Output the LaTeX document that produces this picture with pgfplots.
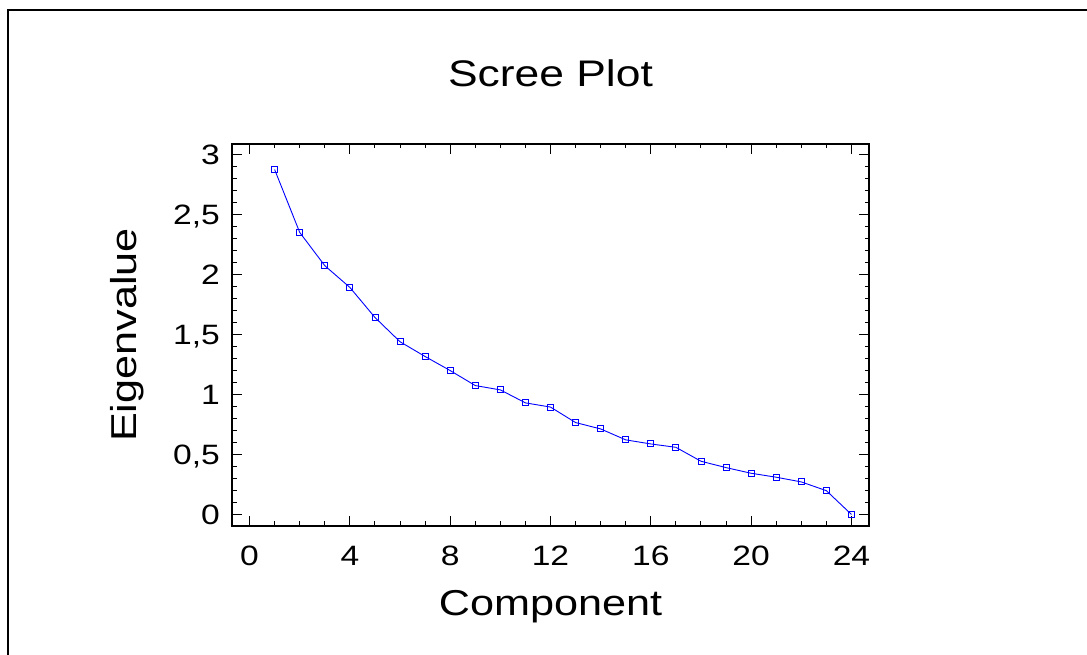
\documentclass[border=0pt]{standalone}
\usepackage{fontspec}
\setmainfont{Liberation Sans}[FakeStretch=1.2]
\usepackage{pgfplots}
\pgfplotsset{compat=1.18}
\begin{document}
\begin{tikzpicture}
\path[use as bounding box] (0,0) rectangle (1087pt,655pt);
\draw[line width=2pt] (8pt,0pt) -- (8pt,645pt) -- (1087pt,645pt);
\begin{axis}[
  at={(232pt,129pt)}, anchor=south west,
  scale only axis, width=637pt, height=382pt,
  xmin=-0.7, xmax=24.7, ymin=-0.094, ymax=3.086,
  xtick={0,4,8,12,16,20,24}, minor x tick num=3,
  ytick={0,0.5,1,1.5,2,2.5,3}, minor y tick num=4,
  tick align=inside,
  axis line style={line width=1.4pt},
  major tick length=10pt, minor tick length=4.5pt,
  every tick/.style={black, line width=1pt},
  /pgf/number format/use comma,
  /pgf/number format/assume math mode=true,
  tick label style={font=\fontsize{28}{30}\selectfont},
  yticklabel style={inner sep=0pt, anchor=east, xshift=-12pt, text depth=0pt},
  xticklabel style={inner sep=0pt, anchor=north, yshift=-20pt},
  title={Scree Plot},
  title style={at={(axis description cs:0.5,1.1335)}, anchor=base, inner sep=0pt, font=\fontsize{37}{40}\selectfont},
  xlabel={Component},
  xlabel style={at={(axis description cs:0.5,-0.233)}, anchor=base, inner sep=0pt, font=\fontsize{36}{40}\selectfont},
  ylabel={Eigenvalue},
  ylabel style={at={(axis description cs:-0.1507,0.5)}, anchor=base, inner sep=0pt, font=\fontsize{36}{40}\selectfont},
  clip=false,
]
\addplot[color={rgb,255:red,0;green,0;blue,255}, line width=0.9pt, mark=square, mark size=3pt, mark options={line width=0.9pt, fill=none}] coordinates {
(1,2.873)(2,2.35)(3,2.073)(4,1.892)(5,1.642)(6,1.44)(7,1.317)(8,1.2)
(9,1.075)(10,1.039)(11,0.931)(12,0.896)(13,0.767)(14,0.714)(15,0.623)(16,0.589)
(17,0.561)(18,0.445)(19,0.392)(20,0.345)(21,0.312)(22,0.273)(23,0.2)(24,0.002)
};
\end{axis}
\end{tikzpicture}
\end{document}
